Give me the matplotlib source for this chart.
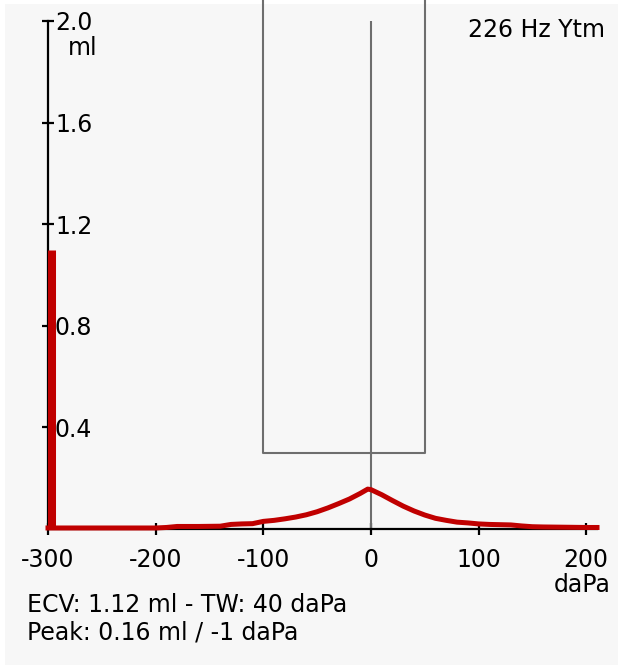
import numpy as np
import matplotlib.pyplot as plt
from matplotlib.patches import Rectangle

# tympanogram (compensated), pressure in daPa, admittance in ml
pressure = [-300, -280, -260, -240, -220, -200, -190, -180, -160, -140, -130,
            -120, -110, -100, -90, -80, -70, -60, -50, -40, -30, -20, -10,
            -3, 0, 10, 20, 30, 40, 50, 60, 70, 80, 90, 100, 110, 120, 130,
            140, 150, 160, 180, 200, 210]
admittance = [0.004, 0.004, 0.004, 0.004, 0.004, 0.004, 0.006, 0.010, 0.010,
              0.011, 0.018, 0.020, 0.021, 0.030, 0.034, 0.040, 0.047, 0.056,
              0.068, 0.083, 0.100, 0.118, 0.140, 0.157, 0.155, 0.135, 0.112,
              0.090, 0.071, 0.055, 0.042, 0.034, 0.027, 0.024, 0.020, 0.018,
              0.017, 0.016, 0.012, 0.009, 0.008, 0.007, 0.006, 0.006]
ecv = 1.10
gate = (-100, 50, 0.30)  # gate left, right, bottom
yticks = [0.4, 0.8, 1.2, 1.6, 2.0]
xticks = [-300, -200, -100, 0, 100, 200]

bg = "#f7f7f7"
red = "#c00000"
grey = "#6e6e6e"

fig = plt.figure(figsize=(6.2, 6.66), dpi=100, facecolor="white")
fig.patches.append(Rectangle((5 / 620, 1 / 666), 613 / 620, 661 / 666,
                             transform=fig.transFigure, facecolor=bg,
                             edgecolor="none", zorder=-10))
ax = fig.add_axes([48 / 620, 137 / 666, 549 / 620, 508 / 666])
ax.patch.set_alpha(0)
ax.set_xlim(-300, 210)
ax.set_ylim(0, 2.0)

for s in ["top", "right"]:
    ax.spines[s].set_visible(False)
ax.spines["left"].set_linewidth(1.6)
ax.spines["bottom"].set_linewidth(1.6)

# gate box and peak line
ax.plot([gate[0], gate[0], gate[1], gate[1]], [2.08, gate[2], gate[2], 2.08],
        color=grey, lw=1.5, clip_on=False, zorder=2)
ax.plot([0, 0], [0, 2.0], color=grey, lw=1.5, zorder=2)

ax.vlines(-297, 0, ecv, color=red, lw=6.5, zorder=3)
ax.plot(pressure, admittance, color=red, lw=3.6, zorder=4, clip_on=False,
        solid_joinstyle="round")

ax.set_xticks(xticks)
ax.set_xticklabels([str(t) for t in xticks])
ax.set_yticks(yticks)
ax.set_yticklabels([f"{t:.1f}" for t in yticks])
for lbl in ax.get_yticklabels():
    lbl.set_horizontalalignment("left")
ax.tick_params(axis="both", direction="inout", length=9, width=1.6,
               labelsize=17, color="black")
ax.tick_params(axis="y", pad=-9.5)
ax.tick_params(axis="x", pad=9)

ax.annotate("ml", xy=(-300, 2.0), xytext=(14, -11), textcoords="offset points",
            fontsize=17, ha="left", va="top")
ax.annotate("daPa", xy=(1.0, 0), xycoords="axes fraction", xytext=(10, -32),
            textcoords="offset points", fontsize=17, ha="right", va="top")

fig.text(605 / 620, 1 - 30 / 666, "226 Hz Ytm", fontsize=17,
         ha="right", va="center")
fig.text(27 / 620, 1 - 605 / 666, "ECV: 1.12 ml - TW: 40 daPa", fontsize=17,
         ha="left", va="center")
fig.text(27 / 620, 1 - 633 / 666, "Peak: 0.16 ml / -1 daPa", fontsize=17,
         ha="left", va="center")

fig.savefig("out.png", dpi=100, facecolor=fig.get_facecolor())
